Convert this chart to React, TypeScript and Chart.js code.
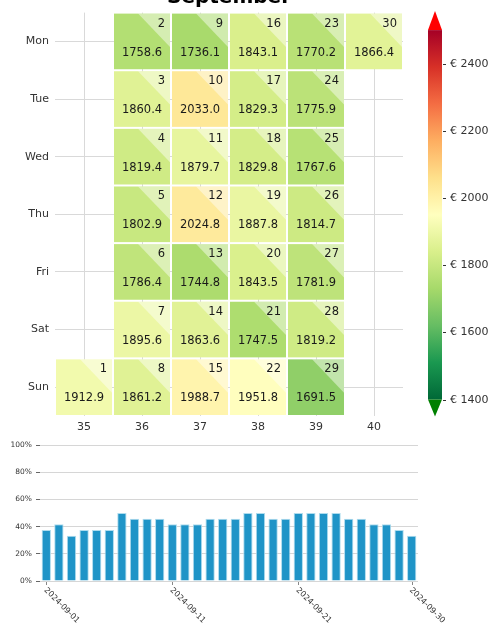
import React, { useEffect, useRef } from 'react';
import { Chart, registerables } from 'chart.js';

Chart.register(...registerables);

const TITLE = 'September';
const YEAR = 2024;
const MONTH_INDEX = 8; // September
const DAY_NAMES = ['Mon', 'Tue', 'Wed', 'Thu', 'Fri', 'Sat', 'Sun'];
const WEEK_LABELS = ['35', '36', '37', '38', '39', '40'];
const DAYS = [1, 2, 3, 4, 5, 6, 7, 8, 9, 10, 11, 12, 13, 14, 15, 16, 17, 18, 19, 20, 21, 22, 23, 24, 25, 26, 27, 28, 29, 30];
const PRICES = [
  1912.9, 1758.6, 1860.4, 1819.4, 1802.9, 1786.4, 1895.6,
  1861.2, 1736.1, 2033.0, 1879.7, 2024.8, 1744.8, 1863.6,
  1988.7, 1843.1, 1829.3, 1829.8, 1887.8, 1843.5, 1747.5,
  1951.8, 1770.2, 1775.9, 1767.6, 1814.7, 1781.9, 1819.2,
  1691.5, 1866.4,
];
const CB_MIN = 1400;
const CB_MAX = 2500;
const CB_TICKS = [1400, 1600, 1800, 2000, 2200, 2400];

const OCC_DATES = DAYS.map((d) => `2024-09-${String(d).padStart(2, '0')}`);
const OCC_VALUES = [
  37.5, 41.7, 33.3, 37.5, 37.5, 37.5, 50.0, 45.8, 45.8, 45.8,
  41.7, 41.7, 41.7, 45.8, 45.8, 45.8, 50.0, 50.0, 45.8, 45.8,
  50.0, 50.0, 50.0, 50.0, 45.8, 45.8, 41.7, 41.7, 37.5, 33.3,
];
const OCC_TICKS = ['2024-09-01', '2024-09-11', '2024-09-21', '2024-09-30'];
const OCC_Y_TICKS = [0, 20, 40, 60, 80, 100];

const FONT = "'DejaVu Sans', sans-serif";
const TEXT = '#333333';

const RDYLGN = ['#a50026', '#d73027', '#f46d43', '#fdae61', '#fee08b', '#ffffbf', '#d9ef8b', '#a6d96a', '#66bd63', '#1a9850', '#006837'];

function hexToRgb(h: string) {
  return [parseInt(h.slice(1, 3), 16), parseInt(h.slice(3, 5), 16), parseInt(h.slice(5, 7), 16)];
}
// RdYlGn reversed
function cmap(t: number) {
  const u = 1 - Math.max(0, Math.min(1, t));
  const pos = u * (RDYLGN.length - 1);
  const i = Math.min(Math.floor(pos), RDYLGN.length - 2);
  const f = pos - i;
  const a = hexToRgb(RDYLGN[i]);
  const b = hexToRgb(RDYLGN[i + 1]);
  const c = a.map((v, k) => Math.round(v + (b[k] - v) * f));
  return `rgb(${c[0]},${c[1]},${c[2]})`;
}
function colorFor(v: number) {
  return cmap((v - CB_MIN) / (CB_MAX - CB_MIN));
}

const firstDow = (new Date(YEAR, MONTH_INDEX, 1).getDay() + 6) % 7; // Mon=0
function cellPos(day: number) {
  const row = (new Date(YEAR, MONTH_INDEX, day).getDay() + 6) % 7;
  const col = Math.floor((day - 1 + firstDow) / 7);
  return { row, col };
}

const heatPlugin = {
  id: 'heatCells',
  beforeDatasetsDraw(chart: any) {
    const { ctx, scales, chartArea } = chart;
    const xs = scales.x;
    const ys = scales.y;
    const cw = Math.abs(xs.getPixelForValue(1) - xs.getPixelForValue(0));
    const ch = Math.abs(ys.getPixelForValue(1) - ys.getPixelForValue(0));
    ctx.save();
    DAYS.forEach((day, i) => {
      const { row, col } = cellPos(day);
      const cx = xs.getPixelForValue(col);
      const cy = ys.getPixelForValue(row);
      const l = cx - cw / 2 + 1;
      const t = cy - ch / 2 + 1;
      const w = cw - 2;
      const h = ch - 2;
      ctx.fillStyle = colorFor(PRICES[i]);
      ctx.fillRect(l, t, w, h);
      // light triangle top-right
      ctx.fillStyle = 'rgba(255,255,255,0.45)';
      ctx.beginPath();
      ctx.moveTo(l + w * 0.43, t);
      ctx.lineTo(l + w, t);
      ctx.lineTo(l + w, t + h * 0.6);
      ctx.closePath();
      ctx.fill();
      ctx.fillStyle = '#1a1a1a';
      ctx.font = `11.5px ${FONT}`;
      ctx.textBaseline = 'middle';
      ctx.textAlign = 'right';
      ctx.fillText(String(day), l + w - 5, t + 10);
      ctx.textAlign = 'center';
      ctx.fillText(PRICES[i].toFixed(1), cx, t + h * 0.7);
    });
    ctx.restore();
  },
  afterDraw(chart: any) {
    const { ctx, chartArea } = chart;
    ctx.save();
    // title
    ctx.fillStyle = '#000';
    ctx.font = `bold 20px ${FONT}`;
    ctx.textAlign = 'center';
    ctx.textBaseline = 'alphabetic';
    ctx.fillText(TITLE, (chartArea.left + chartArea.right) / 2, 3);
    // colorbar
    const x0 = chartArea.right + 25;
    const x1 = x0 + 14;
    const top = chartArea.top + 17.5;
    const bot = chartArea.bottom - 16.5;
    const yFor = (v: number) => bot - ((v - CB_MIN) / (CB_MAX - CB_MIN)) * (bot - top);
    const grad = ctx.createLinearGradient(0, bot, 0, top);
    for (let k = 0; k <= 20; k++) grad.addColorStop(k / 20, cmap(k / 20));
    ctx.fillStyle = grad;
    ctx.fillRect(x0, top, x1 - x0, bot - top);
    ctx.fillStyle = '#ff0000';
    ctx.beginPath();
    ctx.moveTo(x0, top);
    ctx.lineTo(x1, top);
    ctx.lineTo((x0 + x1) / 2, chartArea.top - 1.5);
    ctx.closePath();
    ctx.fill();
    ctx.fillStyle = '#008000';
    ctx.beginPath();
    ctx.moveTo(x0, bot);
    ctx.lineTo(x1, bot);
    ctx.lineTo((x0 + x1) / 2, chartArea.bottom + 0.5);
    ctx.closePath();
    ctx.fill();
    ctx.strokeStyle = TEXT;
    ctx.lineWidth = 1;
    ctx.fillStyle = TEXT;
    ctx.font = `11px ${FONT}`;
    ctx.textAlign = 'left';
    ctx.textBaseline = 'middle';
    CB_TICKS.forEach((v) => {
      const y = Math.round(yFor(v)) + 0.5;
      ctx.beginPath();
      ctx.moveTo(x1 + 1, y);
      ctx.lineTo(x1 + 4, y);
      ctx.stroke();
      ctx.fillText(`€ ${v}`, x1 + 8, y);
    });
    ctx.restore();
  },
};

const occLabelPlugin = {
  id: 'occLabels',
  afterDraw(chart: any) {
    const { ctx, scales } = chart;
    const xs = scales.x;
    const base = scales.y.getPixelForValue(0);
    ctx.save();
    ctx.fillStyle = TEXT;
    ctx.strokeStyle = '#888';
    ctx.font = `8px ${FONT}`;
    ctx.textAlign = 'left';
    ctx.textBaseline = 'middle';
    OCC_TICKS.forEach((lab) => {
      const idx = OCC_DATES.indexOf(lab);
      const x = xs.getPixelForValue(idx);
      ctx.beginPath();
      ctx.moveTo(Math.round(x) + 0.5, base + 1);
      ctx.lineTo(Math.round(x) + 0.5, base + 4);
      ctx.stroke();
      ctx.save();
      ctx.translate(x - 1, base + 8);
      ctx.rotate(Math.PI / 4);
      ctx.fillText(lab, 0, 0);
      ctx.restore();
    });
    ctx.restore();
  },
};

export default function App() {
  const heatRef = useRef<HTMLCanvasElement>(null);
  const barRef = useRef<HTMLCanvasElement>(null);

  useEffect(() => {
    const heat = new Chart(heatRef.current as HTMLCanvasElement, {
      type: 'scatter',
      data: { datasets: [{ data: [] }] },
      options: {
        responsive: false,
        animation: false,
        layout: { padding: { top: 12, right: 86, left: 0, bottom: 0 } },
        plugins: { legend: { display: false }, tooltip: { enabled: false } },
        scales: {
          x: {
            type: 'category',
            labels: WEEK_LABELS,
            offset: true,
            grid: { offset: false, color: '#d9d9d9', drawTicks: false },
            border: { display: false },
            ticks: { color: TEXT, font: { family: FONT, size: 11 }, padding: 5 },
            afterFit: (s: any) => { s.height = 24; },
          } as any,
          y: {
            type: 'category',
            labels: DAY_NAMES,
            offset: true,
            grid: { offset: false, color: '#d9d9d9', drawTicks: false },
            border: { display: false },
            ticks: { color: TEXT, font: { family: FONT, size: 11 }, padding: 6 },
            afterFit: (s: any) => { s.width = 55; },
          } as any,
        },
      },
      plugins: [heatPlugin],
    });

    const bar = new Chart(barRef.current as HTMLCanvasElement, {
      type: 'bar',
      data: {
        labels: OCC_DATES,
        datasets: [{
          data: OCC_VALUES,
          backgroundColor: '#1f94c7',
          borderColor: '#aedcee',
          borderWidth: 1,
          barPercentage: 0.74,
          categoryPercentage: 1,
        }],
      },
      options: {
        responsive: false,
        animation: false,
        layout: { padding: { top: 10, right: 71, left: 0, bottom: 0 } },
        plugins: { legend: { display: false }, tooltip: { enabled: false } },
        scales: {
          x: {
            grid: { display: false },
            border: { display: false },
            ticks: { display: false },
            afterFit: (s: any) => { s.height = 45; },
          } as any,
          y: {
            min: 0,
            max: 100,
            afterBuildTicks: (s: any) => { s.ticks = OCC_Y_TICKS.map((v) => ({ value: v })); },
            grid: { color: '#d6d6d6', tickLength: 4, tickColor: '#666' },
            border: { display: false },
            ticks: { color: TEXT, font: { family: FONT, size: 7.5 }, padding: 4, callback: (v: any) => `${v}%` },
            afterFit: (s: any) => { s.width = 40; },
          } as any,
        },
      },
      plugins: [occLabelPlugin],
    });

    return () => {
      heat.destroy();
      bar.destroy();
    };
  }, []);

  return (
    <div style={{ position: 'fixed', left: 0, top: 0, width: 489, height: 626, background: '#fff' }}>
      <canvas ref={heatRef} width={489} height={440} style={{ position: 'absolute', left: 0, top: 0 }} />
      <canvas ref={barRef} width={489} height={191} style={{ position: 'absolute', left: 0, top: 435 }} />
    </div>
  );
}
